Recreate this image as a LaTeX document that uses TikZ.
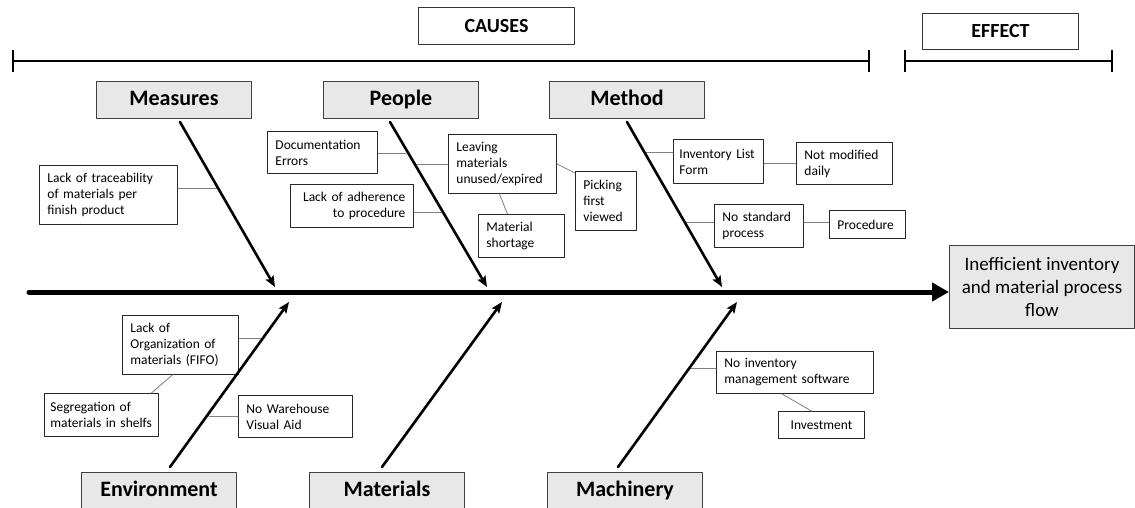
\documentclass[tikz,border=0pt]{standalone}
\usepackage{fontspec}
\setmainfont{Carlito}
\usetikzlibrary{arrows.meta}

\begin{document}
\begin{tikzpicture}[line cap=round,line join=round,x=1pt,y=-1pt,
  cat/.style={draw=black!75,line width=1pt,fill=black!9,minimum width=155pt,minimum height=37pt,inner sep=0pt,text height=16pt,text depth=5pt,anchor=north west,font=\fontsize{22}{26}\selectfont\bfseries},
  head/.style={draw=black!80,line width=1pt,fill=white,minimum width=156pt,minimum height=37pt,inner sep=0pt,anchor=north west,font=\fontsize{20}{24}\selectfont\bfseries},
  cause/.style={draw=black!85,line width=0.9pt,fill=white,anchor=north west,align=left,inner xsep=8pt,inner ysep=3pt,font=\fontsize{13.5}{16}\selectfont},
  bone/.style={line width=2.6pt,-{Stealth[length=11pt,width=9pt,inset=2pt]}},
  twig/.style={black!50,line width=0.8pt},
  bar/.style={line width=1.4pt,{Bar[width=22pt,line width=2.4pt]}-{Bar[width=22pt,line width=2.4pt]}}]
\useasboundingbox (0,0) rectangle (1135,508);

\node[head] (causes) at (418,7) {CAUSES};
\node[head,minimum height=36pt] (effecthead) at (922,13) {EFFECT};
\coordinate (c-l) at (12,61);
\coordinate (c-r) at (870,61);
\coordinate (e-l) at (904,61);
\coordinate (e-r) at (1113,61);
\draw[bar] (c-l) -- (c-r);
\draw[bar] (e-l) -- (e-r);

\node[cat] (measures) at (96,81) {Measures};
\node[cat] (people) at (323,81) {People};
\node[cat] (method) at (549,81) {Method};
\node[cat] (environment) at (81,472) {Environment};
\node[cat] (materials) at (309,472) {Materials};
\node[cat] (machinery) at (547,472) {Machinery};
\node[draw=black!75,line width=1pt,fill=black!9,anchor=north west,minimum width=185pt,minimum height=83pt,align=center,font=\fontsize{19}{23}\selectfont] (effect) at (949,245) {Inefficient inventory\\and material process\\flow};

\node[cause,text width=122pt,minimum height=59pt] (trace) at (39,165) {Lack of traceability\\of materials per\\finish product};
\node[cause,text width=94pt,minimum height=42pt] (doc) at (267,131) {Documentation\\Errors};
\node[cause,text width=107pt,minimum height=43pt,align=right] (adher) at (290,184) {Lack of adherence\\to procedure};
\node[cause,text width=92pt,minimum height=59pt] (leave) at (448,134) {Leaving\\materials\\unused/expired};
\node[cause,text width=70pt,minimum height=43pt] (short) at (478,214) {Material\\shortage};
\node[cause,text width=45pt,minimum height=59pt] (pick) at (575,171) {Picking\\first\\viewed};
\node[cause,text width=78pt,inner xsep=6pt,minimum height=44pt] (invlist) at (673,139) {Inventory List\\Form};
\node[cause,text width=80pt,minimum height=42pt] (notmod) at (796,142) {Not modified\\daily};
\node[cause,text width=73pt,minimum height=43pt] (nostd) at (714,204) {No standard\\process};
\node[cause,text width=60pt,minimum height=28pt] (proc) at (829,210) {Procedure};
\node[cause,text width=100pt,minimum height=59pt] (lackorg) at (122,315) {Lack of\\Organization of\\materials (FIFO)};
\node[cause,text width=102pt,inner xsep=6pt,minimum height=43pt] (segr) at (44,393) {Segregation of\\materials in shelfs};
\node[cause,text width=98pt,minimum height=42pt] (nowh) at (238,395) {No Warehouse\\Visual Aid};
\node[cause,text width=141pt,minimum height=42pt] (noinv) at (716,351) {No inventory\\management software};
\node[cause,text width=70pt,minimum height=27pt,align=center] (invest) at (778,411) {Investment};

\coordinate (j-trace) at (218,188);
\coordinate (j-doc) at (406,153);
\coordinate (j-leave) at (417,164);
\coordinate (j-adher) at (443,212);
\coordinate (j-invlist) at (645,152);
\coordinate (j-nostd) at (685,222);
\coordinate (j-lackorg) at (263,338);
\coordinate (j-nowh) at (209,416);
\coordinate (j-noinv) at (690,368);
\draw[twig] (trace.east |- j-trace) -- (j-trace);
\draw[twig] (doc.east |- j-doc) -- (j-doc);
\draw[twig] (j-leave) -- (leave.west |- j-leave);
\draw[twig] (adher.east |- j-adher) -- (j-adher);
\draw[twig] ([xshift=-3pt]leave.south) -- ([xshift=-14pt]short.north);
\draw[twig] (leave.east) -- ([yshift=-2pt]pick.north west);
\draw[twig] (j-invlist) -- (invlist.west |- j-invlist);
\draw[twig] (invlist.east |- notmod.west) -- (notmod.west);
\draw[twig] (j-nostd) -- (nostd.west |- j-nostd);
\draw[twig] (nostd.east |- j-nostd) -- (proc.west |- j-nostd);
\draw[twig] (lackorg.east |- j-lackorg) -- (j-lackorg);
\draw[twig] ([xshift=-8pt]lackorg.south) -- ([xshift=50pt]segr.north);
\draw[twig] (j-nowh) -- (nowh.west |- j-nowh);
\draw[twig] (j-noinv) -- (noinv.west |- j-noinv);
\draw[twig] ([xshift=-13pt]noinv.south) -- ([xshift=-10pt]invest.north);

\coordinate (spine-s) at (29,292);
\draw[line width=5pt,-{Triangle[length=17pt,width=18pt]}] (spine-s) -- (spine-s -| effect.west);

\coordinate (mea-s) at (180,122);
\coordinate (mea-t) at (275,287);
\coordinate (peo-s) at (390,122);
\coordinate (peo-t) at (487,287);
\coordinate (met-s) at (627,122);
\coordinate (met-t) at (722,287);
\coordinate (env-s) at (170,467);
\coordinate (env-t) at (289,302);
\coordinate (mat-s) at (382,467);
\coordinate (mat-t) at (502,302);
\coordinate (mac-s) at (618,467);
\coordinate (mac-t) at (737,302);
\draw[bone] (mea-s) -- (mea-t);
\draw[bone] (peo-s) -- (peo-t);
\draw[bone] (met-s) -- (met-t);
\draw[bone] (env-s) -- (env-t);
\draw[bone] (mat-s) -- (mat-t);
\draw[bone] (mac-s) -- (mac-t);
\end{tikzpicture}
\end{document}
